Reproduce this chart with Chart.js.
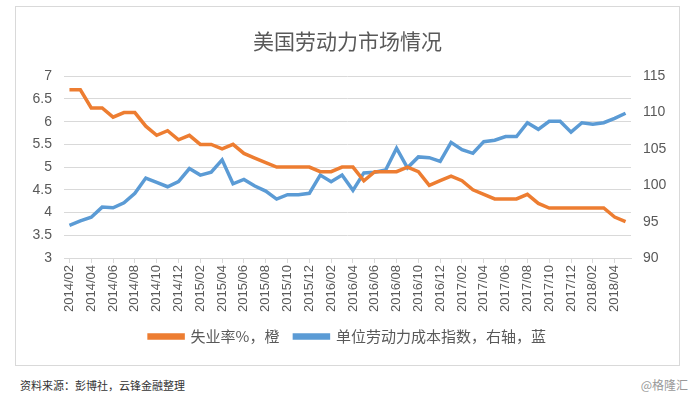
<!DOCTYPE html>
<html>
<head>
<meta charset="utf-8">
<script src="https://cdn.jsdelivr.net/npm/chart.js@4/dist/chart.umd.min.js"></script>
<style>
  body { margin: 0; background: #fff; width: 692px; height: 402px; position: relative; overflow: hidden; }
  #box { position: absolute; left: 15px; top: 6px; width: 665px; height: 360px; border: 1px solid #d9d9d9; box-sizing: border-box; }
  #source { position: absolute; left: 20px; top: 377px; font: 11px "Noto Sans CJK SC", sans-serif; color: #333; }
  #mark { position: absolute; right: 4px; top: 376px; font: 12px "Noto Sans CJK SC", sans-serif; color: #999; }
</style>
</head>
<body>
<div id="box"><canvas id="laborChart"></canvas></div>
<div id="source">资料来源：彭博社，云锋金融整理</div>
<div id="mark">@格隆汇</div>
<script>
// meses 2014/02 - 2018/05
const months = [
  "2014/02","2014/03","2014/04","2014/05","2014/06","2014/07","2014/08","2014/09","2014/10","2014/11","2014/12",
  "2015/01","2015/02","2015/03","2015/04","2015/05","2015/06","2015/07","2015/08","2015/09","2015/10","2015/11","2015/12",
  "2016/01","2016/02","2016/03","2016/04","2016/05","2016/06","2016/07","2016/08","2016/09","2016/10","2016/11","2016/12",
  "2017/01","2017/02","2017/03","2017/04","2017/05","2017/06","2017/07","2017/08","2017/09","2017/10","2017/11","2017/12",
  "2018/01","2018/02","2018/03","2018/04","2018/05"
];
const unemployment = [
  6.7,6.7,6.3,6.3,6.1,6.2,6.2,5.9,5.7,5.8,5.6,
  5.7,5.5,5.5,5.4,5.5,5.3,5.2,5.1,5.0,5.0,5.0,5.0,
  4.9,4.9,5.0,5.0,4.7,4.9,4.9,4.9,5.0,4.9,4.6,4.7,
  4.8,4.7,4.5,4.4,4.3,4.3,4.3,4.4,4.2,4.1,4.1,4.1,
  4.1,4.1,4.1,3.9,3.8
];
const laborCost = [
  94.5,95.1,95.6,97.0,96.9,97.6,98.9,101.0,100.4,99.8,100.5,
  102.3,101.4,101.8,103.5,100.2,100.8,99.9,99.2,98.1,98.7,98.7,98.9,
  101.4,100.5,101.4,99.3,101.7,101.8,102.1,105.1,102.4,103.9,103.8,103.3,
  105.9,104.9,104.4,106.0,106.2,106.7,106.7,108.6,107.7,108.8,108.8,107.3,
  108.6,108.4,108.6,109.2,109.9
];

const textColor = "#595959";
const fontFamily = "'Liberation Sans', 'Noto Sans CJK SC', sans-serif";

let ctx = document.getElementById("laborChart");
let chart = new Chart(ctx, {
  type: "line",
  data: {
    labels: months,
    datasets: [
      {
        label: "失业率%，橙",
        data: unemployment,
        borderColor: "#ED7D31",
        backgroundColor: "#ED7D31",
        borderWidth: 3.5,
        pointRadius: 0,
        tension: 0,
        yAxisID: "y",
      },
      {
        label: "单位劳动力成本指数，右轴，蓝",
        data: laborCost,
        borderColor: "#5B9BD5",
        backgroundColor: "#5B9BD5",
        borderWidth: 3.5,
        pointRadius: 0,
        tension: 0,
        yAxisID: "y1",
      },
    ],
  },
  options: {
    responsive: true,
    maintainAspectRatio: false,
    animation: false,
    layout: { padding: { left: 0, right: 0, top: 0, bottom: 11 } },
    scales: {
      x: {
        offset: true,
        grid: { display: true, drawOnChartArea: false, drawTicks: true, tickLength: 5, color: "#d9d9d9" },
        border: { color: "#d9d9d9" },
        ticks: {
          autoSkip: false,
          minRotation: 90,
          maxRotation: 90,
          color: textColor,
          font: { family: fontFamily, size: 13 },
          padding: 2,
          callback: function (value, index) {
            return index % 2 === 0 ? this.getLabelForValue(value) : null;
          },
        },
      },
      y: {
        position: "left",
        min: 3,
        max: 7,
        ticks: {
          stepSize: 0.5,
          color: textColor,
          font: { family: fontFamily, size: 14 },
          padding: 12,
          callback: function (value) { return String(Number(value)); },
        },
        grid: { color: "#d9d9d9", drawTicks: false },
        border: { display: false },
        afterFit: function (scale) { scale.width = 48; },
      },
      y1: {
        position: "right",
        min: 90,
        max: 115,
        ticks: { stepSize: 5, color: textColor, font: { family: fontFamily, size: 14 }, padding: 12 },
        grid: { drawOnChartArea: false, drawTicks: false },
        border: { display: false },
        afterFit: function (scale) { scale.width = 48; },
      },
    },
    plugins: {
      title: {
        display: true,
        text: "美国劳动力市场情况",
        color: textColor,
        font: { family: fontFamily, size: 21, weight: "normal" },
        padding: { top: 24, bottom: 20 },
      },
      legend: {
        position: "bottom",
        labels: {
          color: textColor,
          font: { family: "'Noto Sans CJK SC', sans-serif", size: 15 },
          boxWidth: 34,
          boxHeight: 3,
          padding: 15,
        },
      },
      tooltip: { enabled: false },
    },
  },
});
</script>
</body>
</html>
